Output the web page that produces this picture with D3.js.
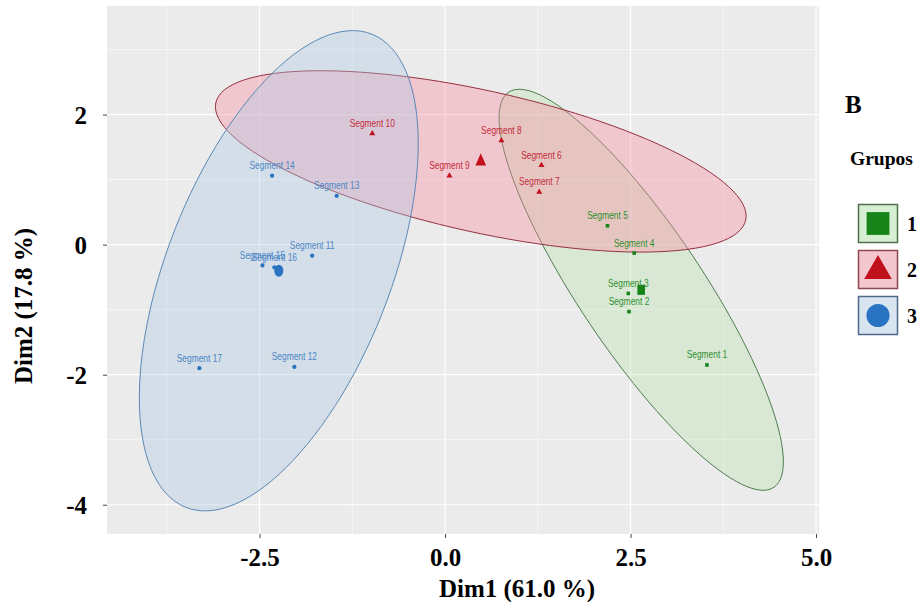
<!DOCTYPE html>
<html>
<head>
<meta charset="utf-8">
<script src="https://cdn.jsdelivr.net/npm/d3@7"></script>
<style>
  html, body { margin: 0; padding: 0; background: #ffffff; }
  svg { display: block; }
</style>
</head>
<body>
<svg id="chart" width="924" height="602"></svg>
<script>
// Individuals on the first two principal dimensions
const segments = ["Segment 1","Segment 2","Segment 3","Segment 4","Segment 5",
  "Segment 6","Segment 7","Segment 8","Segment 9","Segment 10",
  "Segment 11","Segment 12","Segment 13","Segment 14","Segment 15","Segment 16","Segment 17"];
const dim1 = [3.53, 2.48, 2.47, 2.55, 2.19, 1.30, 1.27, 0.76, 0.06, -0.98,
  -1.79, -2.03, -1.46, -2.33, -2.46, -2.30, -3.31];
const dim2 = [-1.85, -1.03, -0.75, -0.13, 0.29, 1.22, 0.81, 1.60, 1.06, 1.71,
  -0.17, -1.88, 0.75, 1.06, -0.32, -0.35, -1.90];
const grupo = [1,1,1,1,1, 2,2,2,2,2, 3,3,3,3,3,3,3];

const grupos = [1, 2, 3];
const xTicks = [-2.5, 0.0, 2.5, 5.0];
const xTickLabels = ["-2.5", "0.0", "2.5", "5.0"];
const xMinor = [-3.75, -1.25, 1.25, 3.75];
const yTicks = [-4, -2, 0, 2];
const yTickLabels = ["-4", "-2", "0", "2"];
const yMinor = [-3, -1, 1, 3];
const xTitle = "Dim1 (61.0 %)";
const yTitle = "Dim2 (17.8 %)";
const legendTitle = "Grupos";
const panelTag = "B";
const ellipseLevel = 0.95;

// per-group styling
const pointColor = {1: "#17841a", 2: "#c0111c", 3: "#2a72c2"};
const labelColor = {1: "#2f8f2f", 2: "#c42a3a", 3: "#4a86c6"};
const ellipseFill = {1: "rgb(185,226,175)", 2: "rgb(252,135,158)", 3: "rgb(172,200,226)"};
const ellipseStroke = {1: "#4d7d4d", 2: "#96303e", 3: "#5a88b6"};
const keyFill = {1: "#d6eed2", 2: "#f4c6ce", 3: "#d8e5f1"};
const keyStroke = {1: "#4f6f4f", 2: "#8a4a4e", 3: "#50688a"};
const symbolType = {1: d3.symbolSquare, 2: d3.symbolTriangle, 3: d3.symbolCircle};

const svg = d3.select("#chart");
const panel = {left: 107, right: 819, top: 6, bottom: 534};

const x = d3.scaleLinear().domain([-4.555, 5.04]).range([panel.left, panel.right]);
const y = d3.scaleLinear().domain([-4.45, 3.67]).range([panel.bottom, panel.top]);

const rows = segments.map((s, i) => ({name: s, x: dim1[i], y: dim2[i], g: grupo[i]}));

// panel background and grid
svg.append("rect")
  .attr("x", panel.left).attr("y", panel.top)
  .attr("width", panel.right - panel.left).attr("height", panel.bottom - panel.top)
  .attr("fill", "#ebebeb");

const grid = svg.append("g");
grid.selectAll(".xminor").data(xMinor).join("line")
  .attr("x1", d => x(d)).attr("x2", d => x(d))
  .attr("y1", panel.top).attr("y2", panel.bottom)
  .attr("stroke", "#ffffff").attr("stroke-width", 0.6);
grid.selectAll(".yminor").data(yMinor).join("line")
  .attr("y1", d => y(d)).attr("y2", d => y(d))
  .attr("x1", panel.left).attr("x2", panel.right)
  .attr("stroke", "#ffffff").attr("stroke-width", 0.6);
grid.selectAll(".xmajor").data(xTicks).join("line")
  .attr("x1", d => x(d)).attr("x2", d => x(d))
  .attr("y1", panel.top).attr("y2", panel.bottom)
  .attr("stroke", "#ffffff").attr("stroke-width", 1.2);
grid.selectAll(".ymajor").data(yTicks).join("line")
  .attr("y1", d => y(d)).attr("y2", d => y(d))
  .attr("x1", panel.left).attr("x2", panel.right)
  .attr("stroke", "#ffffff").attr("stroke-width", 1.2);

// normal-theory confidence ellipse of a group (as in stat_ellipse, type "norm")
function ellipsePoints(pts, level, segs) {
  const n = pts.length;
  const mx = d3.mean(pts, p => p.x), my = d3.mean(pts, p => p.y);
  let sxx = 0, syy = 0, sxy = 0;
  pts.forEach(p => {
    sxx += (p.x - mx) ** 2; syy += (p.y - my) ** 2; sxy += (p.x - mx) * (p.y - my);
  });
  sxx /= (n - 1); syy /= (n - 1); sxy /= (n - 1);
  const dfd = n - 1;
  const fq = (dfd / 2) * (Math.pow(1 - level, -2 / dfd) - 1); // qf(level, 2, dfd)
  const r = Math.sqrt(2 * fq);
  const l11 = Math.sqrt(sxx), l21 = sxy / l11, l22 = Math.sqrt(Math.max(syy - l21 * l21, 0));
  const out = [];
  for (let k = 0; k <= segs; k++) {
    const t = 2 * Math.PI * k / segs;
    const u = Math.cos(t), v = Math.sin(t);
    out.push([mx + r * l11 * u, my + r * (l21 * u + l22 * v)]);
  }
  return out;
}

const line = d3.line().x(d => x(d[0])).y(d => y(d[1]));
const ellG = svg.append("g");
grupos.forEach(g => {
  const pts = rows.filter(r => r.g === g);
  ellG.append("path")
    .attr("d", line(ellipsePoints(pts, ellipseLevel, 120)) + "Z")
    .attr("fill", ellipseFill[g]).attr("fill-opacity", 0.36)
    .attr("stroke", ellipseStroke[g]).attr("stroke-width", 1);
});

// individual points
const ptG = svg.append("g");
const smallSize = {1: 13, 2: 16, 3: 14};
ptG.selectAll("path.pt").data(rows).join("path")
  .attr("class", "pt")
  .attr("transform", d => `translate(${x(d.x)},${y(d.y)})`)
  .attr("d", d => d3.symbol().type(symbolType[d.g]).size(smallSize[d.g])())
  .attr("fill", d => pointColor[d.g]);

// group mean points
const centroids = grupos.map(g => {
  const pts = rows.filter(r => r.g === g);
  return {g, x: d3.mean(pts, p => p.x), y: d3.mean(pts, p => p.y)};
});
const bigSize = {1: 72, 2: 60, 3: 80};
ptG.selectAll("path.cen").data(centroids).join("path")
  .attr("class", "cen")
  .attr("transform", d => `translate(${x(d.x)},${y(d.y)}) scale(0.9,1.2)`)
  .attr("d", d => d3.symbol().type(symbolType[d.g]).size(bigSize[d.g])())
  .attr("fill", d => pointColor[d.g]);

// point labels (condensed sans)
svg.append("g").selectAll("text").data(rows).join("text")
  .attr("transform", d => `translate(${x(d.x)},${y(d.y) - 6.5}) scale(0.8,1)`)
  .attr("text-anchor", "middle")
  .attr("font-family", "'Liberation Sans', Arial, sans-serif")
  .attr("font-size", 10.5)
  .attr("fill", d => labelColor[d.g])
  .text(d => d.name);

// axes
const serif = "'Liberation Serif', 'Times New Roman', serif";
const xAxis = svg.append("g").attr("transform", `translate(0,${panel.bottom})`)
  .call(d3.axisBottom(x).tickValues(xTicks).tickSize(4).tickPadding(10)
    .tickFormat((d, i) => xTickLabels[i]));
const yAxis = svg.append("g").attr("transform", `translate(${panel.left},0)`)
  .call(d3.axisLeft(y).tickValues(yTicks).tickSize(4).tickPadding(16)
    .tickFormat((d, i) => yTickLabels[i]));
[xAxis, yAxis].forEach(a => {
  a.select(".domain").remove();
  a.selectAll(".tick line").attr("stroke", "#444").attr("stroke-width", 1);
  a.selectAll(".tick text")
    .attr("font-family", serif).attr("font-weight", "bold")
    .attr("font-size", 25).attr("fill", "#000");
});
yAxis.selectAll(".tick text").attr("dy", "0.34em");

svg.append("text")
  .attr("x", 517).attr("y", 597)
  .attr("text-anchor", "middle")
  .attr("font-family", serif).attr("font-weight", "bold").attr("font-size", 25)
  .text(xTitle);

svg.append("text")
  .attr("transform", "translate(32,306) rotate(-90)")
  .attr("text-anchor", "middle")
  .attr("font-family", serif).attr("font-weight", "bold").attr("font-size", 25)
  .text(yTitle);

// panel tag and legend
svg.append("text")
  .attr("x", 845).attr("y", 113)
  .attr("font-family", serif).attr("font-weight", "bold").attr("font-size", 25)
  .text(panelTag);

svg.append("text")
  .attr("x", 850).attr("y", 165)
  .attr("font-family", serif).attr("font-weight", "bold").attr("font-size", 19.5)
  .text(legendTitle);

const keyY = d3.scalePoint().domain(grupos).range([204, 296]);
const legend = svg.append("g").selectAll("g").data(grupos).join("g")
  .attr("transform", g => `translate(858,${keyY(g)})`);
legend.append("rect")
  .attr("x", 0.5).attr("y", 0.5).attr("width", 39).attr("height", 38)
  .attr("fill", g => keyFill[g]).attr("stroke", g => keyStroke[g]).attr("stroke-width", 1.5);
const keySize = {1: 520, 2: 330, 3: 420};
legend.append("path")
  .attr("transform", g => `translate(20,${g === 2 ? 21 : 19.5})`)
  .attr("d", g => d3.symbol().type(symbolType[g]).size(keySize[g])())
  .attr("fill", g => pointColor[g]);
legend.append("text")
  .attr("x", 49).attr("y", 27)
  .attr("font-family", serif).attr("font-weight", "bold").attr("font-size", 20)
  .text(g => g);
</script>
</body>
</html>
